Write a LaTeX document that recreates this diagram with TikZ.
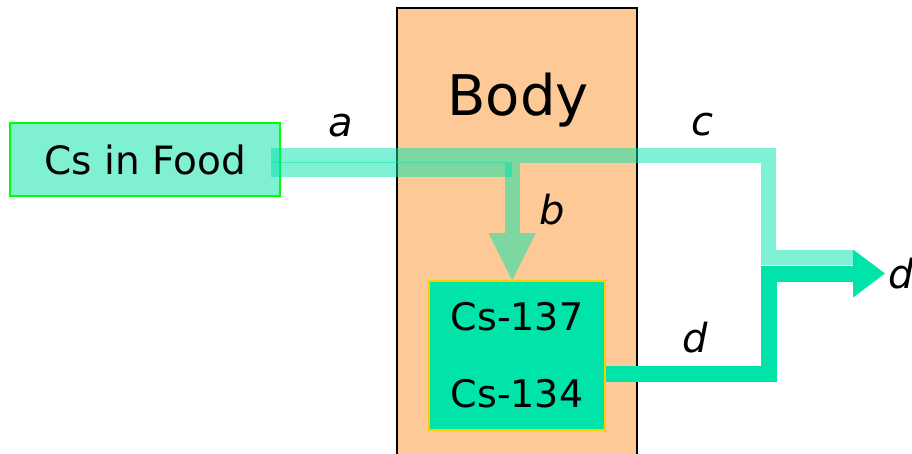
\documentclass[tikz,border=0pt]{standalone}
\usepackage{fontspec}
\setmainfont{DejaVu Sans}
\usetikzlibrary{arrows.meta,calc}
\definecolor{peach}{RGB}{253,201,150}
\definecolor{flowgreen}{RGB}{0,228,170}
\definecolor{foodfill}{RGB}{128,240,210}
\definecolor{foodline}{RGB}{0,255,0}
\definecolor{gold}{RGB}{255,204,0}
\tikzstyle{flow} = [line width=15pt, draw=flowgreen, opacity=0.5]
\tikzstyle{lbl} = [font=\fontsize{40}{48}\selectfont\itshape, anchor=base, inner sep=0pt]

\begin{document}
\begin{tikzpicture}[x=1pt, y=-1pt]
  \useasboundingbox (0,0) rectangle (912,454);
  \node[draw, line width=2pt, fill=peach, minimum width=240pt, minimum height=460pt, inner sep=0pt] (body) at (517,238) {};
  \node[anchor=base, inner sep=0pt, font=\fontsize{56}{66}\selectfont] (bodylbl) at (518,116) {Body};
  \node[draw=foodline, line width=1.5pt, fill=foodfill, minimum width=270pt, minimum height=73pt, inner sep=0pt, font=\fontsize{39}{47}\selectfont] (food) at (145,159.5) {Cs in Food};
  \node[draw=gold, line width=1.5pt, fill=flowgreen, minimum width=176pt, minimum height=149pt, inner sep=0pt, align=center, font=\fontsize{38}{46}\selectfont] (cs) at (517,355.5) {Cs-137\\[31pt]Cs-134};
  \coordinate (split) at (512,163);
  \coordinate (merge) at (768.5,265);
  \coordinate (out) at (885,273.5);
  % flows through the body
  \draw[flow] ($(food.east)+(-10,-4)$) -| ($(merge)+(0,-7.5)$) -- ($(out)+(-32,-16)$);
  \draw[flow] ($(food.east)+(-10,10.5)$) -- ($(split)+(0,7)$);
  \draw[flow, -{Triangle[length=47pt,width=47pt,line width=0pt]}] (split) -- (split |- cs.north);
  \draw[line width=16pt, draw=flowgreen, -{Triangle[length=32pt,width=48pt,line width=0pt]}] ($(cs.east)+(0,18.5)$) -| ($(merge)+(0,8.5)$) -- (out);
  % labels
  \node[lbl] (la) at (341,137) {a};
  \node[lbl] (lb) at (552,225) {b};
  \node[lbl] (lc) at (702,136) {c};
  \node[lbl] (ld) at (695,352) {d};
  \node[lbl] (ldout) at (901,288) {d};
\end{tikzpicture}
\end{document}
